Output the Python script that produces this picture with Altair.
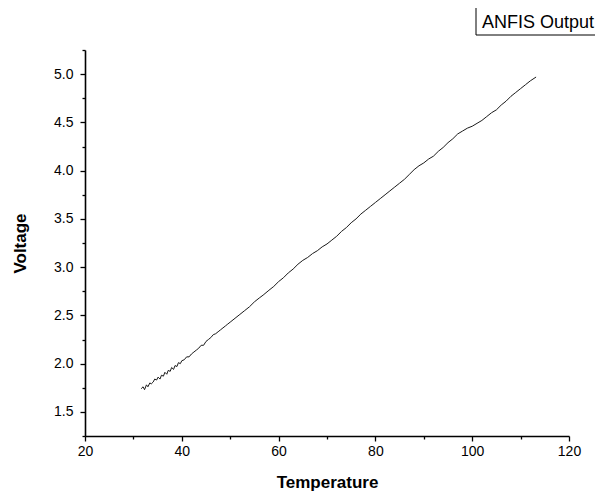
import altair as alt
import pandas as pd

temperature = [31.6, 32.0, 32.3, 32.7, 33.0, 33.4, 33.7, 34.1, 34.4, 34.8, 35.1, 35.5, 35.8,
               36.2, 36.5, 36.9, 37.2, 37.6, 37.9, 38.3, 38.6, 39.0, 39.3, 39.7, 40.0, 40.5,
               41.0, 41.5, 42.0, 42.5, 43.0, 43.5, 44.0, 44.5, 45.0, 45.5, 46.0, 46.5, 47.0,
               47.5, 48.0, 48.5, 49.0, 49.5, 50.0, 51, 52, 53, 54, 55, 56, 56.8, 58, 59, 60,
               61, 62, 63, 64, 65, 66, 67, 68, 69, 70, 71, 72, 73, 74, 75, 76, 77, 78, 79,
               80, 81, 82, 83, 84, 85, 86, 87, 88, 89, 90, 91, 92, 93, 94, 95, 96, 97, 98,
               99, 100, 101, 102, 103, 104, 105, 106, 107, 108, 109, 110, 111, 112, 113.2]
voltage = [1.74, 1.76, 1.73, 1.78, 1.76, 1.80, 1.79, 1.81, 1.84, 1.83, 1.86, 1.84, 1.88,
           1.87, 1.91, 1.89, 1.93, 1.92, 1.96, 1.94, 1.98, 1.97, 2.01, 2.00, 2.03, 2.04,
           2.07, 2.07, 2.10, 2.12, 2.14, 2.16, 2.19, 2.19, 2.23, 2.25, 2.27, 2.30, 2.31,
           2.33, 2.35, 2.37, 2.39, 2.41, 2.43, 2.47, 2.51, 2.55, 2.59, 2.64, 2.68, 2.71,
           2.76, 2.80, 2.85, 2.89, 2.94, 2.98, 3.03, 3.07, 3.10, 3.14, 3.17, 3.21, 3.24,
           3.28, 3.32, 3.37, 3.41, 3.46, 3.50, 3.55, 3.59, 3.63, 3.67, 3.71, 3.75, 3.79,
           3.83, 3.87, 3.91, 3.96, 4.01, 4.05, 4.08, 4.12, 4.15, 4.20, 4.24, 4.29, 4.33,
           4.38, 4.41, 4.44, 4.46, 4.49, 4.52, 4.56, 4.60, 4.63, 4.68, 4.72, 4.77, 4.81,
           4.85, 4.89, 4.93, 4.97]

x_ticks = [20, 30, 40, 50, 60, 70, 80, 90, 100, 110, 120]
y_ticks = [1.25, 1.5, 1.75, 2.0, 2.25, 2.5, 2.75, 3.0, 3.25, 3.5, 3.75, 4.0, 4.25, 4.5,
           4.75, 5.0, 5.25]
legend_label = ["ANFIS Output"]

FONT = "Liberation Sans"

df = pd.DataFrame({"Temperature": temperature, "Voltage": voltage})

line = alt.Chart(df).mark_line(color="#1a1a1a", strokeWidth=1).encode(
    x=alt.X(
        "Temperature:Q",
        scale=alt.Scale(domain=[20, 120], nice=False, zero=False),
        axis=alt.Axis(
            values=x_ticks,
            labelExpr="datum.value % 20 == 0 ? datum.label : ''",
            tickSize={"condition": {"test": "datum.value % 20 == 0", "value": 5}, "value": 3},
            labelPadding=3,
            labelFlush=False,
            labelOverlap=False,
            title="Temperature",
            titleX=242,
            titleY=51,
            titleBaseline="alphabetic",
            titleAlign="center",
        ),
    ),
    y=alt.Y(
        "Voltage:Q",
        scale=alt.Scale(domain=[1.25, 5.25], nice=False, zero=False),
        axis=alt.Axis(
            values=y_ticks,
            labelExpr="abs(datum.value * 2 - round(datum.value * 2)) < 0.001 ? format(datum.value, '.1f') : ''",
            tickSize={"condition": {"test": "abs(datum.value * 2 - round(datum.value * 2)) < 0.001", "value": 5}, "value": 3},
            labelPadding=7,
            labelFlush=False,
            labelOverlap=False,
            title="Voltage",
            titleX=-65,
            titleY=193,
            titleAngle=270,
            titleAlign="center",
            titleBaseline="middle",
        ),
    ),
)

legend_df = pd.DataFrame({"label": legend_label})
box = alt.Chart(legend_df).mark_rect(fill="white", stroke="black", strokeWidth=1).encode(
    x=alt.value(391), x2=alt.value(530), y=alt.value(-43), y2=alt.value(-15)
)
text = alt.Chart(legend_df).mark_text(
    align="left", baseline="alphabetic", font=FONT, fontSize=18, color="black"
).encode(text="label:N", x=alt.value(397), y=alt.value(-22))

chart = (
    alt.layer(line, box, text)
    .properties(
        width=484,
        height=386,
        autosize=alt.AutoSizeParams(type="none"),
        padding={"left": 77, "top": 42, "right": 26, "bottom": 56},
        background="white",
    )
    .configure_view(stroke="transparent")
    .configure_axis(
        grid=False,
        domainColor="black",
        domainWidth=1.6,
        tickColor="black",
        tickWidth=1.3,
        labelFont=FONT,
        labelFontSize=14,
        labelColor="black",
        titleFont=FONT,
        titleFontSize=17,
        titleFontWeight="bold",
        titleColor="black",
    )
)

chart.save("out.html", embed_options={"renderer": "svg", "actions": False})
